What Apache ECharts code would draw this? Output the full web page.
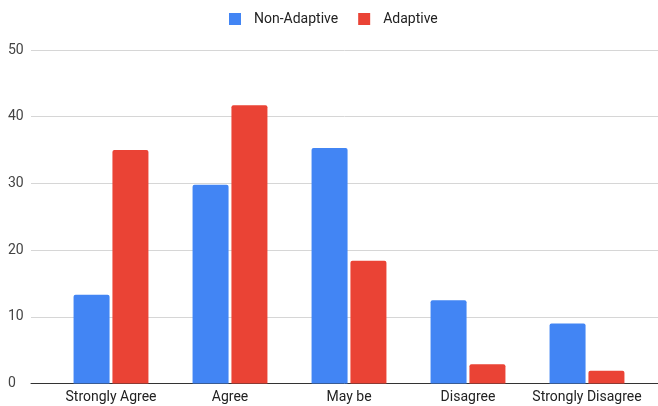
<!DOCTYPE html>
<html>
<head>
<meta charset="utf-8">
<script src="https://cdn.jsdelivr.net/npm/echarts@6/dist/echarts.min.js"></script>
<style>
  html, body { margin: 0; padding: 0; background: #fff; }
  #chart { width: 658px; height: 406px; }
</style>
</head>
<body>
<div id="chart"></div>
<script>
// Survey responses by group
const categories = ['Strongly Agree', 'Agree', 'May be', 'Disagree', 'Strongly Disagree'];
const nonAdaptive = [13.3, 29.8, 35.3, 12.5, 9.0];
const adaptive = [35.0, 41.7, 18.4, 2.9, 1.9];
const yTicks = { min: 0, max: 50, step: 10 };

const FONT = 'Roboto, "Liberation Sans", Arial, sans-serif';
const chart = echarts.init(document.getElementById('chart'));

chart.setOption({
  animation: false,
  textStyle: { fontFamily: FONT },
  legend: {
    top: 12,
    left: 229,
    padding: 0,
    itemWidth: 12,
    itemHeight: 12,
    itemGap: 20,
    icon: 'rect',
    textStyle: { fontSize: 14, color: '#222', fontFamily: FONT, padding: [0, 0, 0, 8] },
    data: ['Non-Adaptive', 'Adaptive']
  },
  grid: [
    // full-width frame: gridlines, value labels and baseline
    { left: 31, right: 0, top: 50, bottom: 22.5 },
    // inset area where the bar groups sit
    { left: 51.5, right: 11.5, top: 50, bottom: 22.5 }
  ],
  xAxis: [
    {
      gridIndex: 0, type: 'value', min: 0, max: 1,
      axisLabel: { show: false }, axisTick: { show: false }, splitLine: { show: false },
      axisLine: { show: true, lineStyle: { color: '#333', width: 1 } }
    },
    {
      gridIndex: 1, type: 'category', data: categories,
      axisLine: { show: false }, axisTick: { show: false },
      axisLabel: { color: '#222', fontSize: 14, margin: 7, fontFamily: FONT, interval: 0 }
    }
  ],
  yAxis: [
    {
      gridIndex: 0, type: 'value', min: yTicks.min, max: yTicks.max, interval: yTicks.step,
      axisLine: { show: false }, axisTick: { show: false },
      axisLabel: { color: '#444', fontSize: 14, align: 'left', margin: 23, fontFamily: FONT },
      splitLine: { lineStyle: { color: '#d6d6d6', width: 1 } }
    },
    {
      gridIndex: 1, type: 'value', min: yTicks.min, max: yTicks.max, interval: yTicks.step,
      show: false, splitLine: { show: false }
    }
  ],
  series: [
    {
      name: 'Non-Adaptive', type: 'bar', xAxisIndex: 1, yAxisIndex: 1,
      data: nonAdaptive, barWidth: 36, barGap: '8%',
      itemStyle: { color: '#4285F4', borderRadius: [2, 2, 0, 0] }
    },
    {
      name: 'Adaptive', type: 'bar', xAxisIndex: 1, yAxisIndex: 1,
      data: adaptive, barWidth: 36, barGap: '8%',
      itemStyle: { color: '#EA4335', borderRadius: [2, 2, 0, 0] }
    }
  ]
});
</script>
</body>
</html>
